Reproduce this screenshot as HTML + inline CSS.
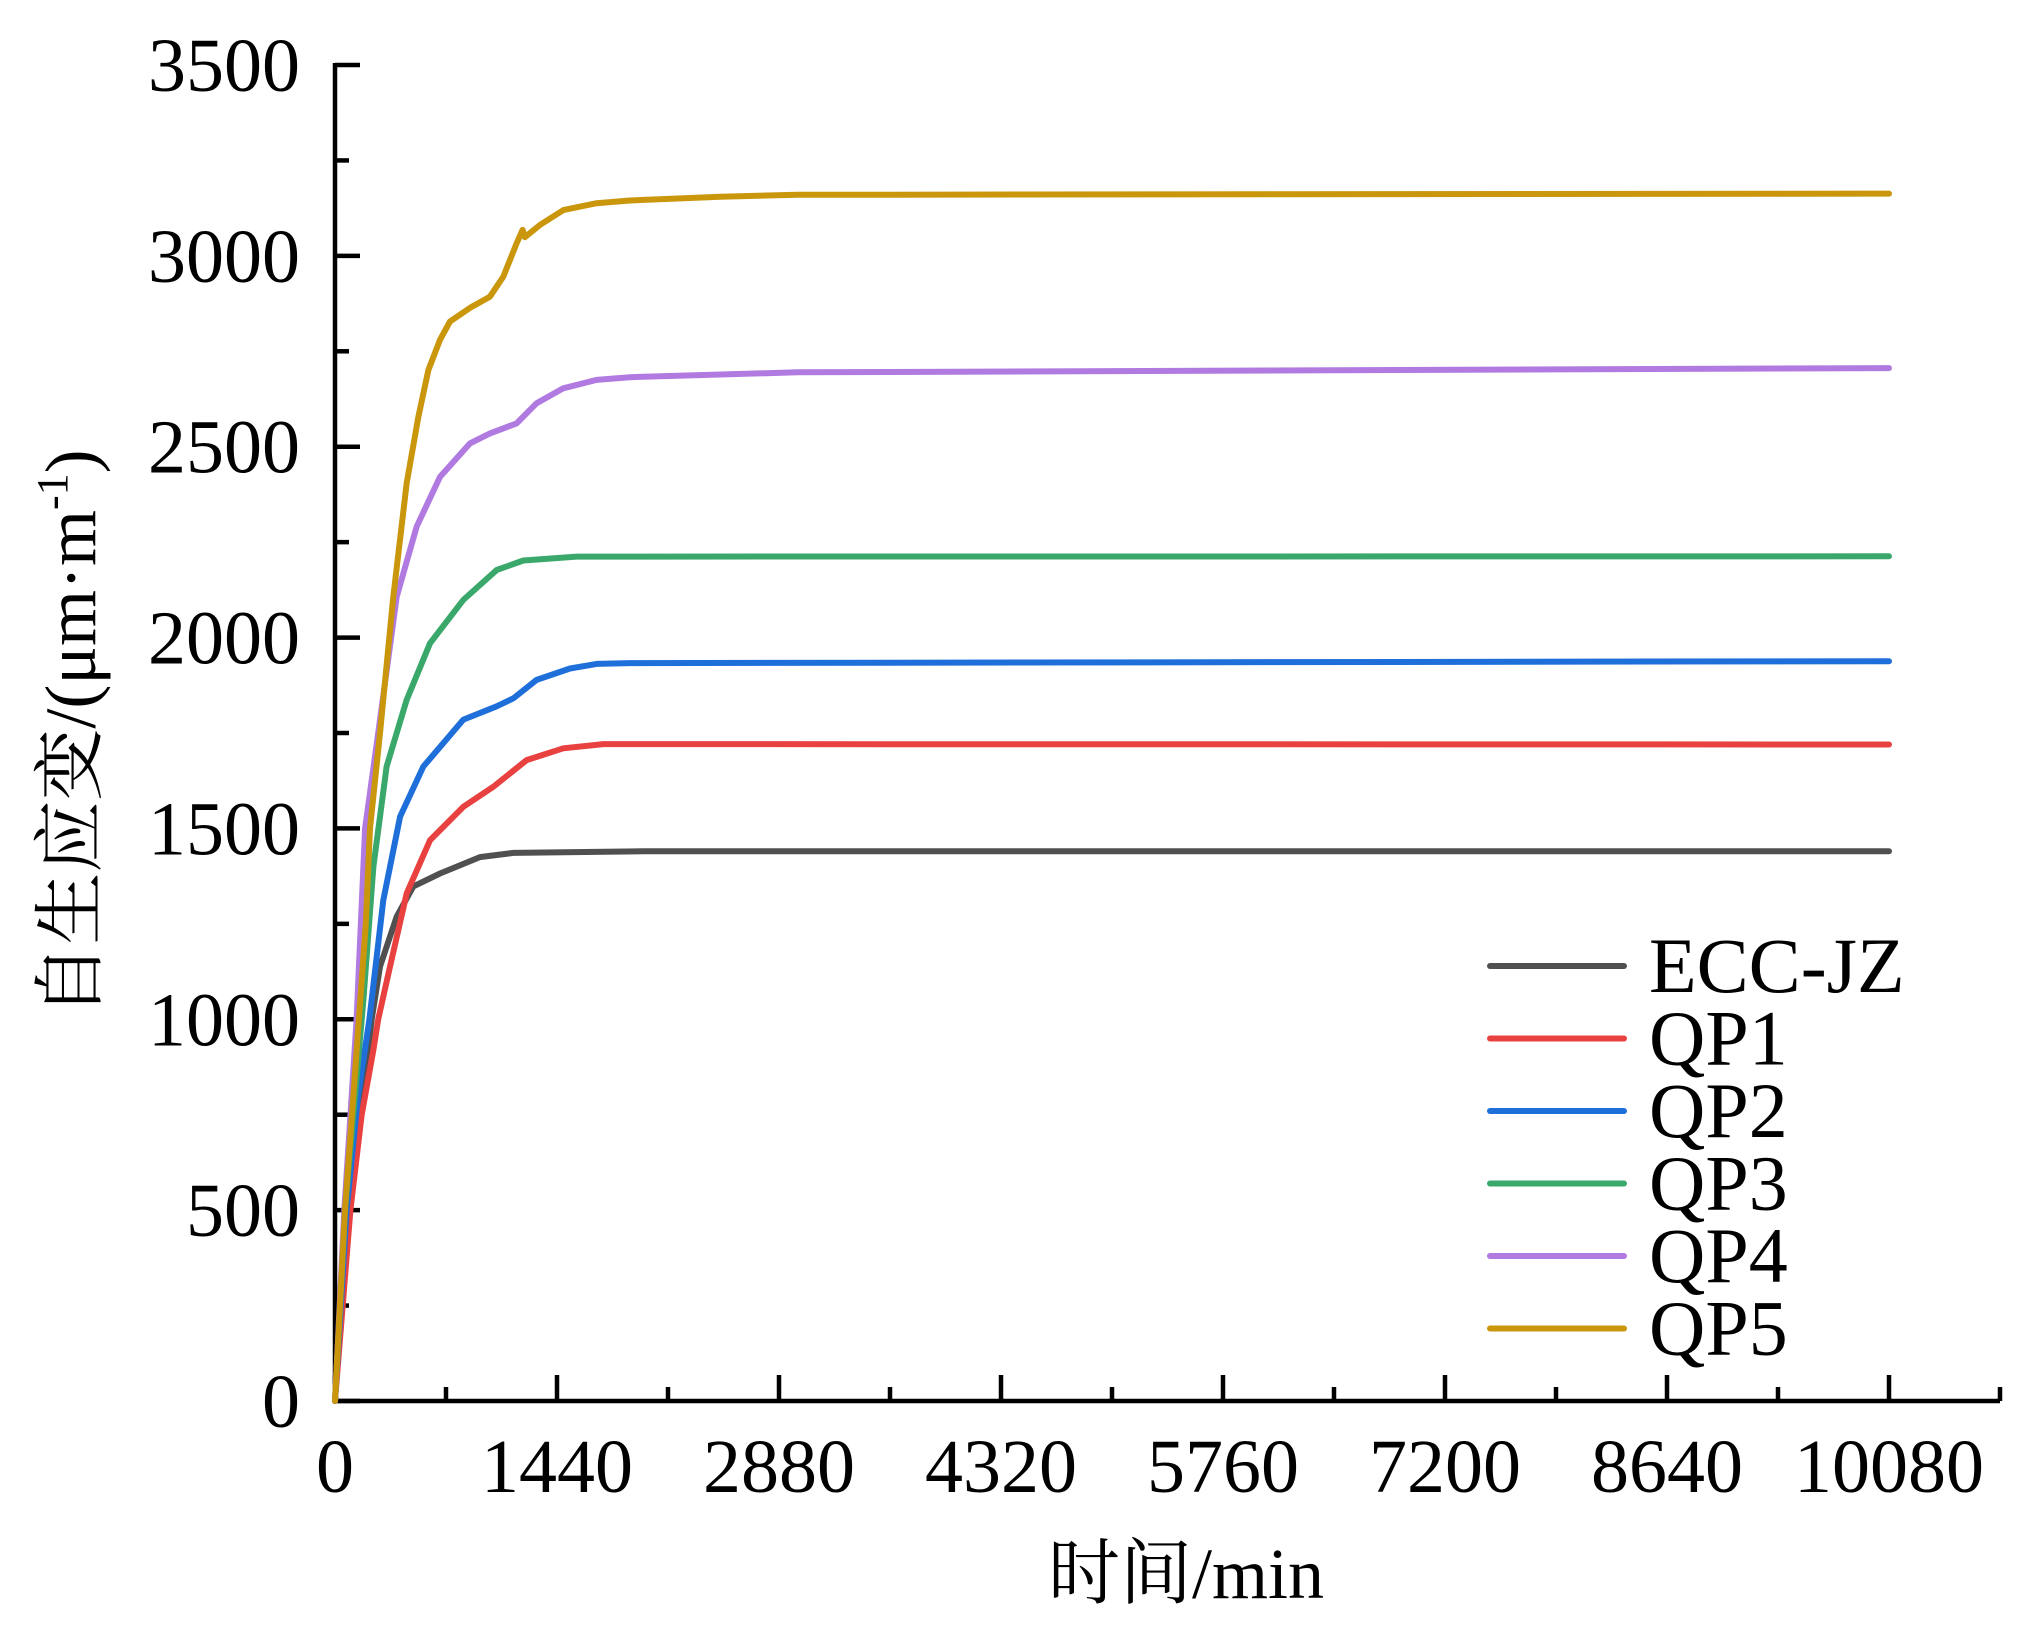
<!DOCTYPE html>
<html><head><meta charset="utf-8"><style>
html,body{margin:0;padding:0;background:#fff;}
svg{display:block;}
text{font-family:"Liberation Serif","Noto Serif CJK SC",serif;fill:#000;}
</style></head><body>
<svg id="chart" width="2025" height="1646" viewBox="0 0 2025 1646" xmlns="http://www.w3.org/2000/svg">
<g id="axes"></g>
<g id="series"></g>
<g id="legend"></g>
<text x="1186" y="1598" font-size="72" text-anchor="middle">时间/min</text>
<text transform="translate(95,733) rotate(-90)" font-size="72" text-anchor="middle">自生应变/(μm·m<tspan font-size="44" dy="-28">-1</tspan><tspan dy="28">)</tspan></text>
</svg>
<script>
const xTicks = [0,1440,2880,4320,5760,7200,8640,10080];
const yTicks = [0,500,1000,1500,2000,2500,3000,3500];
const seriesNames = ["ECC-JZ","QP1","QP2","QP3","QP4","QP5"];
const seriesColors = ["#505050","#e8413f","#1f6fdb","#3aa86a","#b07ae0","#c9960c"];
const eccT = [0,80,165,238,292,400,508,681,940,1157,2000,10080];
const eccV = [0,500,750,1000,1138,1269,1348,1382,1425,1436,1440,1440];
const qp1T = [0,100,173,249,280,357,465,616,833,1027,1243,1481,1740,10080];
const qp1V = [0,500,750,920,1000,1138,1330,1469,1557,1609,1679,1710,1721,1720];
const qp2T = [0,75,150,223,313,422,573,833,1049,1157,1308,1524,1697,1913,10080];
const qp2V = [0,500,800,1000,1312,1531,1662,1785,1820,1841,1889,1919,1931,1933,1938];
const qp3T = [0,65,184,249,335,465,616,833,1049,1222,1568,10080];
const qp3V = [0,500,1051,1400,1662,1837,1985,2099,2177,2202,2212,2213];
const qp4T = [0,60,140,195,280,400,530,681,876,1005,1178,1308,1481,1697,1913,3000,10080];
const qp4V = [0,500,1000,1500,1750,2107,2291,2421,2509,2535,2561,2614,2653,2675,2682,2695,2706];
const qp5T = [0,65,155,200,227,292,378,465,541,606,681,746,876,1005,1092,1178,1217,1232,1330,1481,1697,1913,2500,3000,10080];
const qp5V = [0,500,1000,1250,1500,1750,2107,2405,2579,2701,2780,2828,2864,2893,2946,3033,3068,3049,3081,3120,3138,3145,3155,3160,3163];

const NS = "http://www.w3.org/2000/svg";
const X0 = 335, PXMIN = 1554/10080, Y0 = 1401, PXV = 1336/3500;
function xs(t){ return X0 + t*PXMIN; }
function ys(v){ return Y0 - v*PXV; }
function mk(tag, attrs, parent){ const e=document.createElementNS(NS,tag); for(const k in attrs) e.setAttribute(k,attrs[k]); parent.appendChild(e); return e; }

const axes = document.getElementById('axes');
let el = mk('line',{x1:X0,y1:ys(3500)-2,x2:X0,y2:Y0+2,stroke:'#000','stroke-width':4.5},axes);


el = mk('line',{x1:X0-2,y1:Y0,x2:xs(10800),y2:Y0,stroke:'#000','stroke-width':4.5},axes);


for(let t=720;t<=10800;t+=1440){
  el = mk('line',{x1:xs(t),y1:Y0,x2:xs(t),y2:Y0-14,stroke:'#000','stroke-width':4.5},axes);
  
  
}
xTicks.forEach(t=>{
  el = mk('line',{x1:xs(t),y1:Y0,x2:xs(t),y2:Y0-26,stroke:'#000','stroke-width':4.5},axes);
  
  
  el = mk('text',{x:xs(t),y:1492,'font-size':76,'text-anchor':'middle'},axes);
  el.textContent = t;
  
  
});
for(let v=250;v<3500;v+=500){
  el = mk('line',{x1:X0,y1:ys(v),x2:X0+14,y2:ys(v),stroke:'#000','stroke-width':4.5},axes);
  
  
}
yTicks.forEach(v=>{
  el = mk('line',{x1:X0,y1:ys(v),x2:X0+25,y2:ys(v),stroke:'#000','stroke-width':4.5},axes);
  
  
  el = mk('text',{x:300,y:ys(v)+26,'font-size':76,'text-anchor':'end'},axes);
  el.textContent = v;
  
  
});

const allT = [eccT,qp1T,qp2T,qp3T,qp4T,qp5T];
const allV = [eccV,qp1V,qp2V,qp3V,qp4V,qp5V];
const sg = document.getElementById('series');
seriesNames.forEach((n,i)=>{
  const d = allT[i].map((t,j)=>(j?'L':'M')+xs(t).toFixed(1)+','+ys(allV[i][j]).toFixed(1)).join(' ');
  el = mk('path',{d:d,fill:'none',stroke:seriesColors[i],'stroke-width':6,'stroke-linejoin':'round','stroke-linecap':'round'},sg);
  
  
});

const lg = document.getElementById('legend');
seriesNames.forEach((n,i)=>{
  const y = 966 + i*72.5;
  el = mk('line',{x1:1490,y1:y,x2:1624,y2:y,stroke:seriesColors[i],'stroke-width':6,'stroke-linecap':'round'},lg);
  
  
  el = mk('text',{x:1649,y:y+26,'font-size':78},lg);
  el.textContent = n;
  
  
});
</script>
</body></html>
